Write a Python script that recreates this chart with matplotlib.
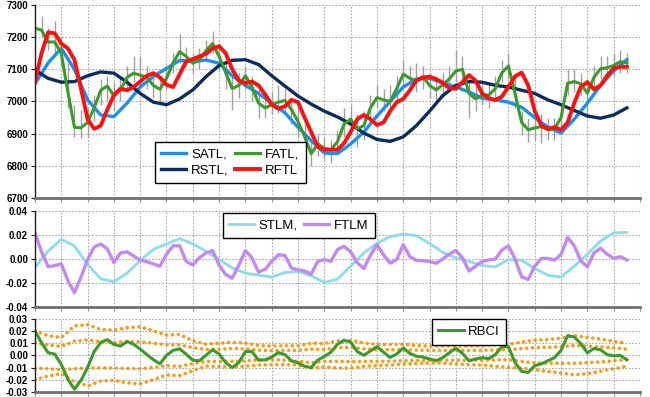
import numpy as np
import matplotlib
matplotlib.use("Agg")
import matplotlib.pyplot as plt

# bar index positions (one grid cell = 10 bars)
x5 = np.arange(0, 226, 5)
x25 = np.arange(0, 226, 2.5)

# ---- price panel ----
satl = [7055, 7120, 7165, 7100, 7005, 6958, 6953, 6995, 7045, 7078, 7103, 7128,
        7124, 7129, 7119, 7080, 7050, 7025, 6995, 6965, 6920, 6878, 6840, 6838,
        6868, 6905, 6955, 7000, 7045, 7070, 7072, 7058, 7045, 7030, 7010, 7005,
        6998, 6982, 6950, 6920, 6902, 6945, 6995, 7050, 7095, 7130]
rstl = [7098, 7072, 7060, 7062, 7080, 7092, 7088, 7060, 7025, 6998, 6990, 7008,
        7036, 7077, 7112, 7128, 7130, 7115, 7080, 7048, 7017, 6992, 6970, 6952,
        6930, 6902, 6882, 6876, 6890, 6925, 6970, 7018, 7050, 7062, 7060, 7050,
        7045, 7035, 7025, 7005, 6990, 6972, 6955, 6948, 6958, 6980]
rftl = [7062, 7150, 7215, 7212, 7180, 7165, 7130, 7040, 6945, 6915, 6925, 6975,
        7020, 7040, 7035, 7045, 7062, 7080, 7088, 7075, 7052, 7045, 7085, 7125,
        7132, 7140, 7148, 7165, 7172, 7150, 7100, 7065, 7057, 7062, 7050, 7022,
        6990, 6978, 6985, 7005, 6998, 6950, 6905, 6860, 6850, 6850, 6850, 6870,
        6905, 6945, 6958, 6945, 6927, 6935, 6970, 6998, 7008, 7035, 7065, 7075,
        7077, 7070, 7058, 7041, 7040, 7060, 7082, 7065, 7025, 7010, 7005, 7015,
        7046, 7078, 7090, 7050, 6970, 6925, 6915, 6920, 6912, 6935, 6995, 7046,
        7060, 7038, 7050, 7080, 7103, 7108, 7108]
fatl = [7228, 7222, 7185, 7185, 7150, 7030, 6920, 6918, 6935, 6980, 7035, 7048,
        7018, 7036, 7075, 7088, 7082, 7075, 7050, 7038, 7072, 7120, 7155, 7140,
        7119, 7129, 7158, 7180, 7140, 7090, 7040, 7050, 7080, 7045, 6995, 6980,
        6990, 6998, 7003, 6975, 6938, 6891, 6838, 6868, 6855, 6850, 6875, 6930,
        6945, 6915, 6925, 6980, 7012, 7005, 7000, 7040, 7085, 7072, 7065, 7077,
        7050, 7036, 7052, 7070, 7095, 7100, 7025, 7008, 7020, 7020, 7040, 7090,
        7110, 7025, 6935, 6912, 6918, 6922, 6912, 6915, 6950, 7057, 7062, 7055,
        7026, 7075, 7102, 7105, 7112, 7124, 7120]
bar_high = [7245, 7265, 7230, 7250, 7200, 7120, 6990, 6975, 6980, 7020, 7070, 7080,
            7060, 7080, 7110, 7140, 7140, 7110, 7090, 7075, 7100, 7150, 7210, 7170,
            7150, 7165, 7190, 7220, 7180, 7130, 7080, 7090, 7110, 7080, 7040, 7020,
            7030, 7050, 7040, 7010, 6980, 6930, 6880, 6900, 6890, 6880, 6910, 6980,
            6990, 6960, 6970, 7020, 7050, 7040, 7050, 7080, 7130, 7110, 7120, 7110,
            7090, 7075, 7090, 7110, 7160, 7140, 7070, 7050, 7060, 7060, 7080, 7130,
            7150, 7070, 6970, 6950, 6955, 6960, 6950, 6950, 6990, 7100, 7100, 7090,
            7070, 7110, 7140, 7140, 7150, 7160, 7150]
bar_low = [7190, 7200, 7160, 7150, 7110, 6980, 6890, 6885, 6890, 6940, 6990, 7000,
           6975, 7000, 7040, 7060, 7050, 7040, 7010, 6995, 7040, 7090, 7120, 7110,
           7090, 7100, 7130, 7150, 7100, 7040, 6975, 7010, 7040, 7000, 6950, 6950,
           6960, 6965, 6960, 6930, 6890, 6840, 6798, 6830, 6820, 6810, 6840, 6890,
           6910, 6860, 6880, 6950, 6980, 6970, 6960, 7000, 7050, 7040, 7030, 7040,
           7010, 7000, 7015, 7040, 7060, 7060, 6950, 6970, 6990, 6980, 7000, 7060,
           7070, 6980, 6900, 6875, 6880, 6870, 6880, 6880, 6910, 7020, 7030, 7020,
           6950, 7040, 7070, 7070, 7080, 7090, 7090]

# ---- momentum panel ----
stlm = [-0.0069, 0.0065, 0.0164, 0.0110, -0.0045, -0.0165, -0.0189, -0.0118,
        -0.0012, 0.0080, 0.0125, 0.0170, 0.0127, 0.0065, -0.0003, -0.0075,
        -0.0118, -0.0135, -0.0150, -0.0113, -0.0103, -0.0140, -0.0195, -0.0168,
        -0.0060, 0.0050, 0.0130, 0.0186, 0.0208, 0.0195, 0.0130, 0.0055,
        0.0010, -0.0020, -0.0055, -0.0065, -0.0005, -0.0010, -0.0080, -0.0135,
        -0.0150, -0.0060, 0.0040, 0.0150, 0.0218, 0.0222]
ftlm = [0.0219, 0.0060, -0.0064, -0.0055, -0.0040, -0.0180, -0.0280, -0.0150,
        -0.0005, 0.0100, 0.0125, 0.0085, -0.0030, 0.0050, 0.0060, 0.0025,
        -0.0010, -0.0022, -0.0040, -0.0060, 0.0040, 0.0110, 0.0110, -0.0020,
        -0.0050, 0.0010, 0.0050, 0.0070, -0.0050, -0.0130, -0.0160, -0.0050,
        0.0070, 0.0010, -0.0110, -0.0085, -0.0020, 0.0035, 0.0030, -0.0075,
        -0.0090, -0.0100, -0.0125, -0.0020, -0.0005, -0.0020, 0.0080, 0.0105,
        0.0060, -0.0030, -0.0080, 0.0030, 0.0120, 0.0035, -0.0035, -0.0005,
        0.0120, 0.0020, -0.0010, -0.0015, -0.0020, -0.0035, 0.0000, 0.0040,
        0.0072, 0.0010, -0.0100, -0.0060, -0.0020, -0.0008, 0.0000, 0.0075,
        0.0110, 0.0000, -0.0150, -0.0170, -0.0060, 0.0005, 0.0005, -0.0010,
        0.0040, 0.0180, 0.0110, -0.0015, -0.0065, 0.0050, 0.0090, 0.0040,
        0.0005, 0.0020, -0.0008]

# ---- RBCI panel ----
rbci = [0.0198, 0.0102, 0.0020, 0.0010, -0.0075, -0.0195, -0.0278, -0.0205,
        -0.0100, 0.0030, 0.0105, 0.0128, 0.0088, 0.0075, 0.0112, 0.0090,
        0.0050, 0.0006, -0.0036, -0.0070, 0.0000, 0.0040, 0.0053, 0.0008,
        -0.0040, -0.0045, 0.0000, 0.0045, 0.0010, -0.0060, -0.0100, -0.0060,
        0.0030, 0.0030, -0.0040, -0.0038, -0.0015, 0.0022, 0.0005, -0.0045,
        -0.0062, -0.0090, -0.0100, -0.0040, -0.0010, 0.0025, 0.0090, 0.0122,
        0.0108, 0.0030, 0.0000, 0.0035, 0.0070, 0.0025, -0.0018, 0.0010,
        0.0060, 0.0015, -0.0008, -0.0015, -0.0030, -0.0045, -0.0020, 0.0020,
        0.0058, 0.0015, -0.0045, -0.0030, -0.0020, -0.0028, 0.0005, 0.0070,
        0.0070, -0.0060, -0.0132, -0.0140, -0.0085, -0.0070, -0.0045, -0.0020,
        0.0040, 0.0160, 0.0150, 0.0095, 0.0020, 0.0055, 0.0045, 0.0005,
        -0.0005, -0.0002, -0.0036]
band_uo = [0.0200, 0.0160, 0.0145, 0.0240, 0.0250, 0.0210, 0.0205, 0.0225, 0.0232,
           0.0200, 0.0165, 0.0170, 0.0118, 0.0090, 0.0098, 0.0106, 0.0100, 0.0080,
           0.0075, 0.0078, 0.0078, 0.0098, 0.0095, 0.0118, 0.0122, 0.0100, 0.0088,
           0.0088, 0.0088, 0.0080, 0.0075, 0.0075, 0.0075, 0.0075, 0.0078, 0.0085,
           0.0090, 0.0108, 0.0124, 0.0128, 0.0140, 0.0160, 0.0145, 0.0132, 0.0115,
           0.0098]
band_ui = [0.0102, 0.0085, 0.0072, 0.0115, 0.0125, 0.0112, 0.0105, 0.0112, 0.0110,
           0.0098, 0.0085, 0.0085, 0.0062, 0.0048, 0.0050, 0.0055, 0.0052, 0.0042,
           0.0038, 0.0040, 0.0040, 0.0050, 0.0048, 0.0062, 0.0065, 0.0052, 0.0046,
           0.0045, 0.0045, 0.0042, 0.0040, 0.0040, 0.0040, 0.0040, 0.0040, 0.0044,
           0.0046, 0.0055, 0.0062, 0.0065, 0.0070, 0.0080, 0.0075, 0.0068, 0.0060,
           0.0050]
band_li = [-0.0104, -0.0110, -0.0118, -0.0110, -0.0104, -0.0104, -0.0105, -0.0108,
           -0.0110, -0.0100, -0.0085, -0.0090, -0.0068, -0.0050, -0.0050, -0.0050,
           -0.0045, -0.0038, -0.0036, -0.0040, -0.0050, -0.0060, -0.0050, -0.0050,
           -0.0052, -0.0050, -0.0050, -0.0048, -0.0045, -0.0042, -0.0040, -0.0040,
           -0.0040, -0.0042, -0.0040, -0.0038, -0.0036, -0.0050, -0.0063, -0.0065,
           -0.0065, -0.0065, -0.0060, -0.0055, -0.0045, -0.0036]
band_lo = [-0.0200, -0.0170, -0.0150, -0.0215, -0.0250, -0.0210, -0.0205, -0.0225,
           -0.0232, -0.0200, -0.0160, -0.0167, -0.0125, -0.0088, -0.0092, -0.0095,
           -0.0090, -0.0080, -0.0077, -0.0077, -0.0080, -0.0105, -0.0095, -0.0104,
           -0.0104, -0.0090, -0.0085, -0.0080, -0.0072, -0.0068, -0.0063, -0.0065,
           -0.0072, -0.0077, -0.0080, -0.0090, -0.0098, -0.0105, -0.0118, -0.0132,
           -0.0145, -0.0160, -0.0150, -0.0130, -0.0110, -0.0090]

# narrower face than DejaVu for the labels
plt.rcParams['font.family'] = ['Liberation Sans', 'DejaVu Sans']


def style_axes(ax, yticks, fmt):
    ax.set_xlim(0, 230)
    ax.set_ylim(yticks[0], yticks[-1])
    ax.set_xticks(np.arange(0, 231, 10))
    ax.set_yticks(yticks)
    ax.set_yticklabels([fmt.format(v) for v in yticks])
    ax.grid(True, color='#a8a8a8', linestyle=(0, (1.5, 1.5)), linewidth=0.8)
    ax.set_axisbelow(True)
    for s in ('top', 'right'):
        ax.spines[s].set_visible(False)
    ax.spines['left'].set_color('#202020')
    ax.spines['left'].set_linewidth(1.0)
    ax.spines['bottom'].set_color('#707070')
    ax.spines['bottom'].set_linewidth(2.0)
    ax.tick_params(axis='x', labelbottom=False, length=3, color='#909090')
    ax.tick_params(axis='y', length=3, labelsize=7, pad=2, color='#202020')
    for t in ax.get_yticklabels():
        t.set_fontweight('bold')


def add_legend(ax, anchor, ncol):
    leg = ax.legend(loc='upper left', bbox_to_anchor=anchor, ncol=ncol,
                    fontsize=9.5, frameon=True, fancybox=False, framealpha=1,
                    edgecolor='black', borderaxespad=0, handlelength=1.9,
                    handletextpad=0.35, columnspacing=0.5, labelspacing=0.3,
                    borderpad=0.5)
    leg.get_frame().set_linewidth(1.0)
    return leg


fig = plt.figure(figsize=(6.5, 3.97), dpi=100)
ax1 = fig.add_axes([0.0538, 0.5013, 0.9308, 0.4861])
ax2 = fig.add_axes([0.0538, 0.2267, 0.9308, 0.2418])
ax3 = fig.add_axes([0.0538, 0.0126, 0.9308, 0.1851])

# price panel
ax1.vlines(x25, bar_low, bar_high, color='#a0a0a0', linewidth=1.0)
ax1.plot(x5, satl, color='#1E8FF0', lw=2.4, label='SATL,')
ax1.plot(x5, rstl, color='#0B2C5E', lw=2.4, label='RSTL,')
ax1.plot(x25, fatl, color='#3A9A2A', lw=2.2, label='FATL,')
ax1.plot(x25, rftl, color='#FF1010', lw=2.8, label='RFTL')
style_axes(ax1, np.arange(6700, 7301, 100), '{:.0f}')
add_legend(ax1, (0.198, 0.292), 2)

# STLM / FTLM panel
ax2.plot(x5, stlm, color='#8ADCEE', lw=2.0, label='STLM,')
ax2.plot(x25, ftlm, color='#C488F2', lw=2.4, label='FTLM')
style_axes(ax2, np.round(np.arange(-0.04, 0.041, 0.02), 2), '{:.2f}')
add_legend(ax2, (0.310, 0.982), 2)

# RBCI panel
for band in (band_uo, band_ui, band_li, band_lo):
    ax3.plot(x5, band, color='#FF9A10', lw=2.6, linestyle=(0, (0.01, 1.6)),
             dash_capstyle='round')
ax3.plot(x25, rbci, color='#3A9A2A', lw=2.2, label='RBCI')
style_axes(ax3, np.round(np.arange(-0.03, 0.031, 0.01), 2), '{:.2f}')
add_legend(ax3, (0.656, 0.99), 1)

fig.savefig('out.png', dpi=100)
